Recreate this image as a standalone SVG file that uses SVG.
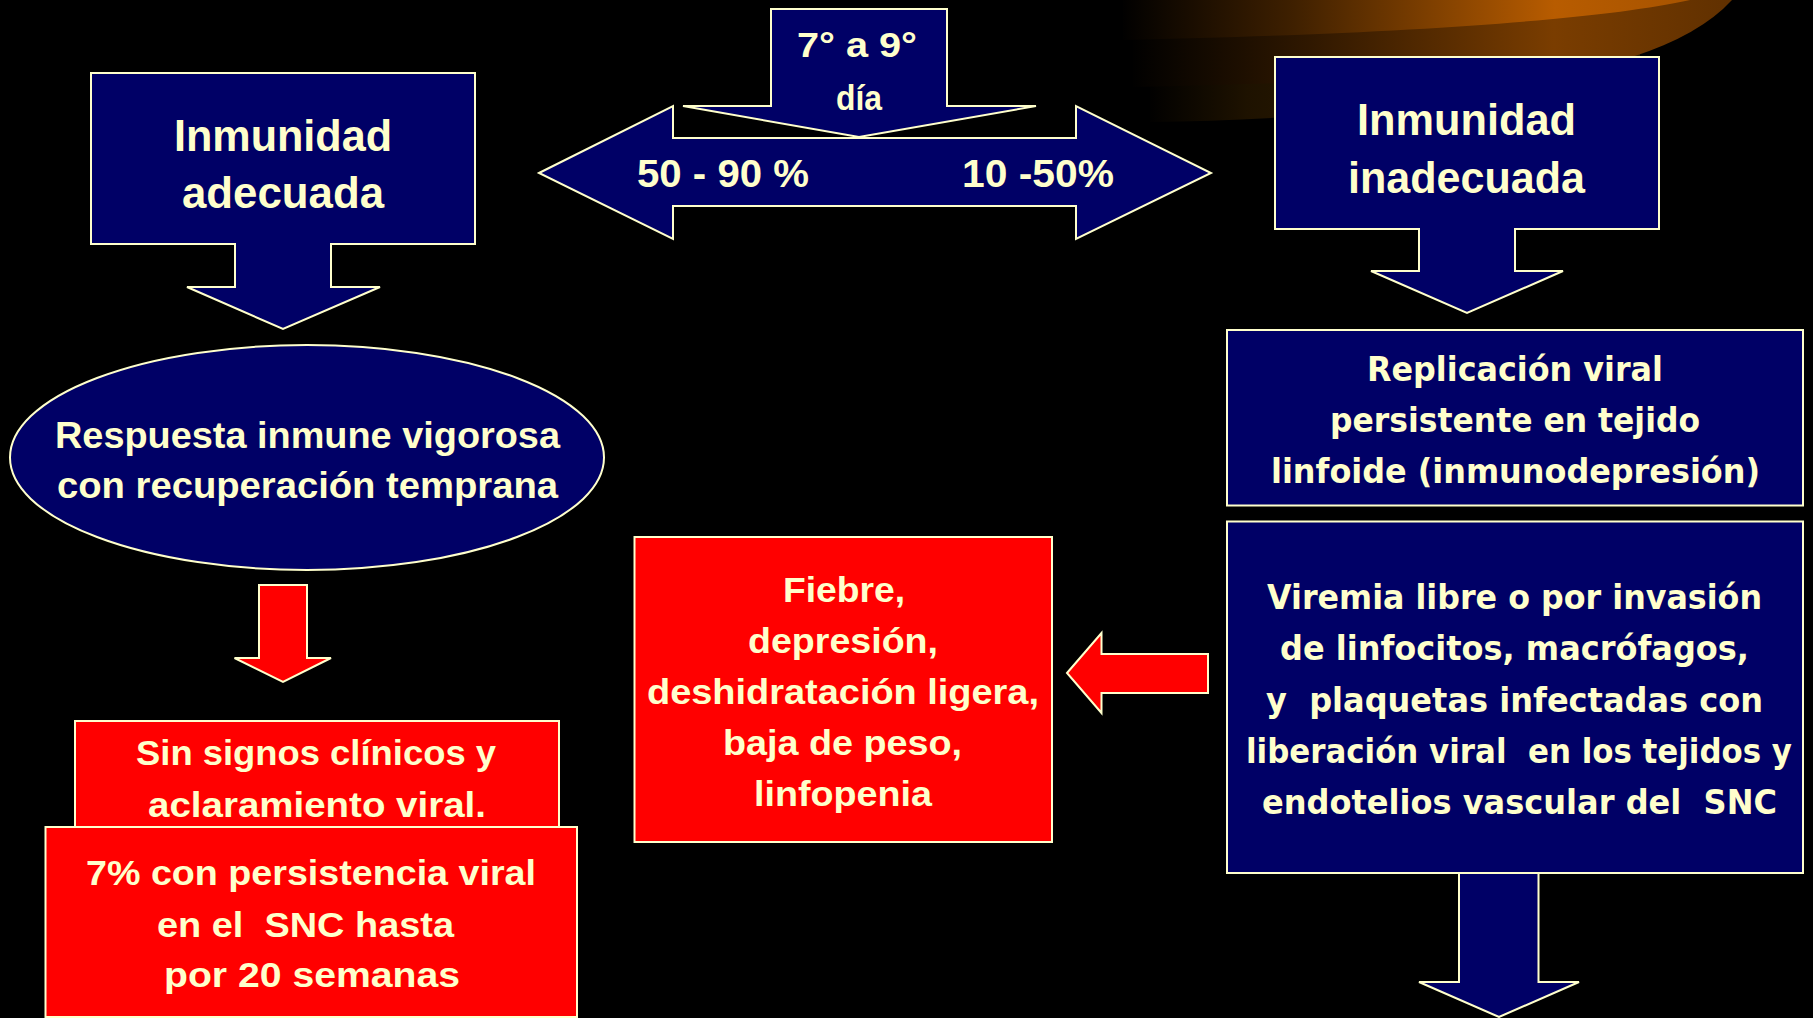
<svg xmlns="http://www.w3.org/2000/svg" width="1813" height="1018" viewBox="0 0 1813 1018" xml:space="preserve">
<style>
.nv{fill:#000066;stroke:#FFFFCC;stroke-width:2;stroke-linejoin:miter}
.rd{fill:#FF0000;stroke:#FFFFCC;stroke-width:2;stroke-linejoin:miter}
text{fill:#FFFFCC;white-space:pre}
.a{font-family:"Liberation Sans",Arial,sans-serif;font-weight:bold}
.t{font-family:"DejaVu Sans",Verdana,sans-serif;font-weight:bold;font-size:34px}
</style>
<defs>
<linearGradient id="g1" gradientUnits="userSpaceOnUse" x1="1120" y1="0" x2="1700" y2="0">
<stop offset="0" stop-color="#000000"/>
<stop offset="0.3" stop-color="#3f2000"/>
<stop offset="0.75" stop-color="#b85c00"/>
<stop offset="1" stop-color="#a65300"/>
</linearGradient>
<linearGradient id="g2" gradientUnits="userSpaceOnUse" x1="1130" y1="0" x2="1735" y2="0">
<stop offset="0" stop-color="#000000"/>
<stop offset="0.3" stop-color="#301800"/>
<stop offset="0.7" stop-color="#7a3d00"/>
<stop offset="1" stop-color="#603000"/>
</linearGradient>
<linearGradient id="g3" gradientUnits="userSpaceOnUse" x1="1145" y1="0" x2="1400" y2="0">
<stop offset="0" stop-color="#000000"/>
<stop offset="0.4" stop-color="#1e1200"/>
<stop offset="1" stop-color="#301d00"/>
</linearGradient>
</defs>
<rect x="0" y="0" width="1813" height="1018" fill="#000000"/>
<g id="background-swoosh">
<path d="M1150,0 L1150,122 C1300,120 1450,110 1640,57 L1640,0 Z" fill="url(#g3)"/>
<path d="M1133,0 L1133,87 C1350,83 1540,72 1632,57 Q1700,35 1732,0 Z" fill="url(#g2)"/>
<path d="M1123,0 L1123,40 C1400,34 1600,20 1690,0 Z" fill="url(#g1)"/>
</g>
<g id="connectors">
<path id="double-arrow" class="nv" d="M539,173 L673,106 V138 H1076 V106 L1211,173 L1076,239 V206 H673 V239 Z"/>
<path id="day-arrow" class="nv" d="M771,9 H947 V106 H1036 L859,137 L683,106 H771 Z"/>
<path id="red-down-arrow" class="rd" d="M259,585 H307 V658 H331 L283,682 L234.5,658 H259 Z"/>
<path id="red-left-arrow" class="rd" d="M1067,673 L1101.5,633 V654 H1208 V693 H1101.5 V713 Z"/>
<path id="viremia-arrow" class="nv" d="M1459,860 V982 H1419 L1499,1017 L1579,982 H1538.5 V860 Z"/>
</g>
<g id="labels-arrows">
<text class="a" font-size="35" x="797" y="57" textLength="120" lengthAdjust="spacingAndGlyphs">7° a 9°</text>
<text class="a" font-size="35" x="836" y="110" textLength="46" lengthAdjust="spacingAndGlyphs">día</text>
<text class="a" font-size="39" x="637" y="187" textLength="172" lengthAdjust="spacingAndGlyphs">50 - 90 %</text>
<text class="a" font-size="39" x="962" y="187" textLength="152" lengthAdjust="spacingAndGlyphs">10 -50%</text>
</g>
<g id="node-inmunidad-adecuada">
<path class="nv" d="M91,73 H475 V244 H331 V287 H380 L283,329 L187,287 H235 V244 H91 Z"/>
<text class="a" font-size="44" x="174" y="151" textLength="218" lengthAdjust="spacingAndGlyphs">Inmunidad</text>
<text class="a" font-size="44" x="182" y="208" textLength="202" lengthAdjust="spacingAndGlyphs">adecuada</text>
</g>
<g id="node-inmunidad-inadecuada">
<path class="nv" d="M1275,57 H1659 V229 H1515 V271 H1563 L1467,313 L1371,271 H1419 V229 H1275 Z"/>
<text class="a" font-size="44" x="1357" y="135" textLength="219" lengthAdjust="spacingAndGlyphs">Inmunidad</text>
<text class="a" font-size="44" x="1348" y="193" textLength="237" lengthAdjust="spacingAndGlyphs">inadecuada</text>
</g>
<g id="node-respuesta">
<ellipse class="nv" cx="307" cy="457.5" rx="297" ry="112.5"/>
<text class="a" font-size="36" x="55" y="448" textLength="505" lengthAdjust="spacingAndGlyphs">Respuesta inmune vigorosa</text>
<text class="a" font-size="36" x="57" y="498" textLength="501" lengthAdjust="spacingAndGlyphs">con recuperación temprana</text>
</g>
<g id="node-sin-signos">
<rect class="rd" x="75" y="721" width="484" height="120"/>
<text class="a" font-size="35" x="136" y="765" textLength="360" lengthAdjust="spacingAndGlyphs">Sin signos clínicos y</text>
<text class="a" font-size="35" x="148" y="817" textLength="338" lengthAdjust="spacingAndGlyphs">aclaramiento viral.</text>
</g>
<g id="node-persistencia">
<rect class="rd" x="45.5" y="827" width="531.5" height="190"/>
<text class="a" font-size="35" x="86" y="885" textLength="450" lengthAdjust="spacingAndGlyphs">7% con persistencia viral</text>
<text class="a" font-size="35" x="157" y="937" textLength="297" lengthAdjust="spacingAndGlyphs">en el  SNC hasta</text>
<text class="a" font-size="35" x="164" y="987" textLength="296" lengthAdjust="spacingAndGlyphs">por 20 semanas</text>
</g>
<g id="node-fiebre">
<rect class="rd" x="634.5" y="537" width="417.5" height="305"/>
<text class="a" font-size="35" x="783" y="602" textLength="122" lengthAdjust="spacingAndGlyphs">Fiebre,</text>
<text class="a" font-size="35" x="748" y="653" textLength="190" lengthAdjust="spacingAndGlyphs">depresión,</text>
<text class="a" font-size="35" x="647" y="704" textLength="392" lengthAdjust="spacingAndGlyphs">deshidratación ligera,</text>
<text class="a" font-size="35" x="723" y="755" textLength="239" lengthAdjust="spacingAndGlyphs">baja de peso,</text>
<text class="a" font-size="35" x="754" y="806" textLength="178" lengthAdjust="spacingAndGlyphs">linfopenia</text>
</g>
<g id="node-replicacion">
<rect class="nv" x="1227" y="330" width="576" height="175.5"/>
<text class="t" x="1367" y="381" textLength="296" lengthAdjust="spacingAndGlyphs">Replicación viral</text>
<text class="t" x="1330" y="432" textLength="370" lengthAdjust="spacingAndGlyphs">persistente en tejido</text>
<text class="t" x="1271" y="483" textLength="489" lengthAdjust="spacingAndGlyphs">linfoide (inmunodepresión)</text>
</g>
<g id="node-viremia">
<rect class="nv" x="1227" y="521.5" width="576" height="351.5"/>
<text class="t" x="1267" y="609" textLength="495" lengthAdjust="spacingAndGlyphs">Viremia libre o por invasión</text>
<text class="t" x="1280" y="660" textLength="469" lengthAdjust="spacingAndGlyphs">de linfocitos, macrófagos,</text>
<text class="t" x="1266" y="712" textLength="497" lengthAdjust="spacingAndGlyphs">y  plaquetas infectadas con</text>
<text class="t" x="1246" y="763" textLength="546" lengthAdjust="spacingAndGlyphs">liberación viral  en los tejidos y</text>
<text class="t" x="1262" y="814" textLength="515" lengthAdjust="spacingAndGlyphs">endotelios vascular del  SNC</text>
</g>
</svg>
